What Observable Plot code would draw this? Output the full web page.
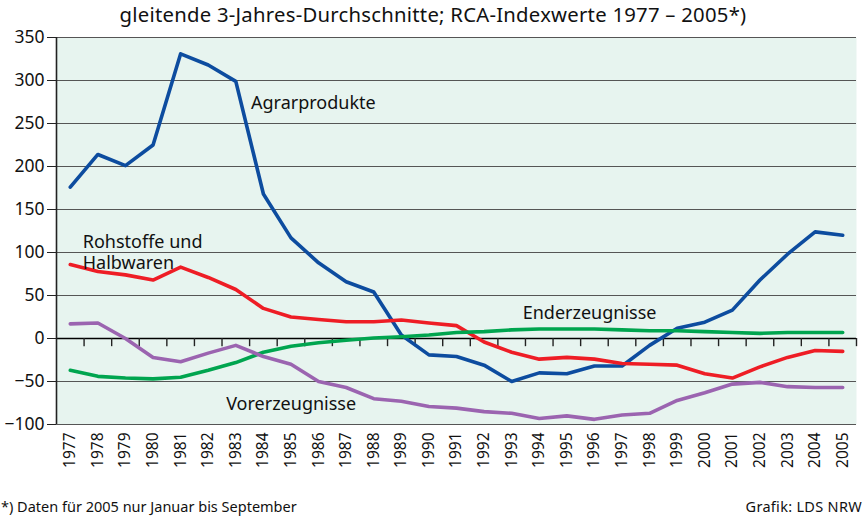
<!DOCTYPE html>
<html>
<head>
<meta charset="utf-8">
<script src="https://cdn.jsdelivr.net/npm/d3@7"></script>
<script src="https://cdn.jsdelivr.net/npm/@observablehq/plot@0.6"></script>
<style>
  html, body { margin: 0; padding: 0; background: #fff; }
  body { position: relative; width: 866px; height: 519px; overflow: hidden; font-family: "Noto Sans", "Open Sans", sans-serif; }
  #title { position: absolute; left: 0; top: 0; width: 866px; height: 28px; line-height: 28px; font-size: 20.3px; letter-spacing: 0.25px; text-align: center; color: #111; z-index: 2; }
  #footer { position: relative; height: 29px; font-size: 14.5px; color: #111; }
  #footer .l { position: absolute; left: 1px; top: 6px; }
  #footer .r { position: absolute; right: 4px; top: 6px; letter-spacing: 0.3px; }
  svg { display: block; }
</style>
</head>
<body>
<div id="title">gleitende 3-Jahres-Durchschnitte; RCA-Indexwerte 1977 – 2005*)</div>
<div id="chart"></div>
<div id="footer"><span class="l">*) Daten für 2005 nur Januar bis September</span><span class="r">Grafik: LDS NRW</span></div>
<script>
const years = [1977,1978,1979,1980,1981,1982,1983,1984,1985,1986,1987,1988,1989,1990,1991,1992,1993,1994,1995,1996,1997,1998,1999,2000,2001,2002,2003,2004,2005];
const agrarprodukte = [176,214,201,225,331,318,299,168,117,88,66,54,4,-19,-21,-31,-50,-40,-41,-32,-32,-8,12,19,33,68,98,124,120];
const rohstoffe = [86,78,74,68,83,71,57,35,25,22,19.5,19.5,21.5,18,15,-4,-16,-24,-22,-24,-29,-30,-31,-41,-46,-33,-22,-14,-15];
const enderzeugnisse = [-37,-44,-46,-47,-45,-37,-28,-16,-9,-5,-2,0.5,2,4,7,8,10,11,11,11,10,9,9,8,7,6,7,7,7];
const vorerzeugnisse = [17,18,0,-22,-27,-17,-8,-21,-30,-50,-57,-70,-73,-79,-81,-85,-87,-93,-90,-94,-89,-87,-72,-63,-53,-51,-56,-57,-57];
const yTicks = [-100,-50,0,50,100,150,200,250,300,350];
const seriesNames = ["Agrarprodukte","Rohstoffe und Halbwaren","Enderzeugnisse","Vorerzeugnisse"];
const seriesColors = ["#0d4c9f","#ee1d25","#00a54f","#9b64b0"];

const seriesValues = [agrarprodukte, rohstoffe, enderzeugnisse, vorerzeugnisse];
const rows = seriesNames.flatMap((s, i) => years.map((yr, j) => ({series: s, year: yr, value: seriesValues[i][j]})));
const boundaries = years.slice(1).map(y => y - 0.5).concat([2005.5]);

const labels = [
  {text: "Agrarprodukte", year: 1983.55, value: 274},
  {text: "Rohstoffe und\nHalbwaren", year: 1977.45, value: 100.5},
  {text: "Enderzeugnisse", year: 1993.4, value: 30},
  {text: "Vorerzeugnisse", year: 1982.65, value: -76}
];

const chart = Plot.plot({
  width: 866,
  height: 490,
  marginTop: 37,
  marginBottom: 66,
  marginLeft: 56,
  marginRight: 10,
  style: {fontFamily: "'Noto Sans', 'Open Sans', sans-serif", background: "transparent", color: "#111"},
  x: {domain: [1976.5, 2005.5]},
  y: {domain: [-100, 350]},
  color: {domain: seriesNames, range: seriesColors},
  marks: [
    Plot.frame({fill: "#e7f4ef", stroke: null}),
    Plot.ruleY(yTicks.filter(d => d !== 0), {stroke: "#555", strokeWidth: 1.2}),
    Plot.ruleY([0], {stroke: "#000", strokeWidth: 1.6}),
    Plot.ruleX([1976.5], {stroke: "#222", strokeWidth: 1.6}),
    Plot.ruleX(boundaries, {y1: 0, y2: -9.5, stroke: "#222", strokeWidth: 1.4}),
    Plot.line(rows, {x: "year", y: "value", z: "series", stroke: "series", strokeWidth: 3.6, strokeLinejoin: "round", strokeLinecap: "round"}),
    Plot.text(labels, {x: "year", y: "value", text: "text", textAnchor: "start", lineHeight: 1.15, fontSize: 18, letterSpacing: 0.3, fill: "#111"}),
    Plot.axisY({ticks: yTicks, tickSize: 9, tickPadding: 3, fontSize: 17.5, stroke: "#222", label: null}),
    Plot.axisX({ticks: years, tickFormat: d => String(d), tickRotate: -90, tickSize: 0, tickPadding: 8, fontSize: 15.5, label: null})
  ]
});
document.getElementById("chart").appendChild(chart);
</script>
</body>
</html>
